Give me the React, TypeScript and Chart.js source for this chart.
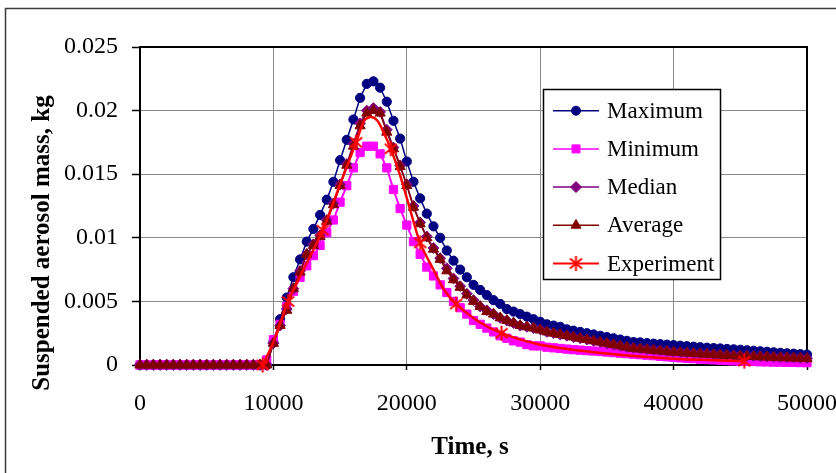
import React, { useEffect, useRef } from "react";
import { Chart, registerables } from "chart.js";

Chart.register(...registerables);

const FONT_FAMILY = '"Liberation Serif", "Times New Roman", Times, serif';

// Simulation output times, s
const timeSeconds = [
  0, 500, 1000, 1500, 2000, 2500, 3000, 3500, 4000, 4500,
  5000, 5500, 6000, 6500, 7000, 7500, 8000, 8500, 9000, 9500,
  10000, 10500, 11000, 11500, 12000, 12500, 13000, 13500, 14000, 14500,
  15000, 15500, 16000, 16500, 17000, 17500, 18000, 18500, 19000, 19500,
  20000, 20500, 21000, 21500, 22000, 22500, 23000, 23500, 24000, 24500,
  25000, 25500, 26000, 26500, 27000, 27500, 28000, 28500, 29000, 29500,
  30000, 30500, 31000, 31500, 32000, 32500, 33000, 33500, 34000, 34500,
  35000, 35500, 36000, 36500, 37000, 37500, 38000, 38500, 39000, 39500,
  40000, 40500, 41000, 41500, 42000, 42500, 43000, 43500, 44000, 44500,
  45000, 45500, 46000, 46500, 47000, 47500, 48000, 48500, 49000, 49500,
  50000,
];

const maximumMass = [
  0, 0, 0, 0, 0, 0, 0, 0, 0, 0,
  0, 0, 0, 0, 0, 0, 0, 0, 0, 0,
  0.0018, 0.0036, 0.0053, 0.0069, 0.0083, 0.0097, 0.0107, 0.0118, 0.013, 0.0144,
  0.0161, 0.0177, 0.0193, 0.021, 0.0221, 0.0223, 0.0218, 0.0207, 0.0192, 0.0178,
  0.016, 0.0144, 0.0131, 0.0119, 0.0109, 0.01, 0.009, 0.0082, 0.0075, 0.0069,
  0.0063, 0.0059, 0.0055, 0.0051, 0.0048, 0.0044, 0.0042, 0.004, 0.0038, 0.0036,
  0.0034, 0.0032, 0.0031, 0.003, 0.0028, 0.0027, 0.0026, 0.0025, 0.0024, 0.0023,
  0.0022, 0.0021, 0.002, 0.0019, 0.0018, 0.00178, 0.00172, 0.00168, 0.00164, 0.0016,
  0.00156, 0.00152, 0.00148, 0.00144, 0.0014, 0.00136, 0.00133, 0.0013, 0.00126, 0.00123,
  0.0012, 0.00116, 0.00112, 0.00108, 0.00104, 0.001, 0.00096, 0.00092, 0.00089, 0.00085,
  0.00082,
];

const minimumMass = [
  0, 0, 0, 0, 0, 0, 0, 0, 0, 0,
  0, 0, 0, 0, 0, 0, 0, 0, 0, 0.0004,
  0.002, 0.0032, 0.0046, 0.0058, 0.0069, 0.0078, 0.0086, 0.0094, 0.0104, 0.0114,
  0.0128, 0.0141, 0.0155, 0.0167, 0.0172, 0.0172, 0.0166, 0.0155, 0.0138, 0.0123,
  0.011, 0.0097, 0.0087, 0.0077, 0.007, 0.0063, 0.0057, 0.005, 0.0045, 0.004,
  0.0035, 0.0032, 0.0029, 0.0026, 0.0023, 0.0021, 0.0019, 0.0018, 0.0016, 0.0015,
  0.0015, 0.0014, 0.00135, 0.0013, 0.00125, 0.0012, 0.00117, 0.00113, 0.0011, 0.00106,
  0.00102, 0.00097, 0.00093, 0.00089, 0.00085, 0.00081, 0.00077, 0.00073, 0.00068, 0.00064,
  0.0006, 0.00056, 0.00053, 0.00049, 0.00046, 0.00043, 0.0004, 0.00037, 0.00034, 0.00032,
  0.0003, 0.00028, 0.00027, 0.00025, 0.00024, 0.00023, 0.00022, 0.00021, 0.0002, 0.00019,
  0.00018,
];

const medianMass = [
  0, 0, 0, 0, 0, 0, 0, 0, 0, 0,
  0, 0, 0, 0, 0, 0, 0, 0, 0, 0,
  0.0017, 0.0031, 0.0044, 0.006, 0.0074, 0.0087, 0.0095, 0.0102, 0.0114, 0.0127,
  0.0142, 0.0158, 0.0174, 0.019, 0.02, 0.0202, 0.0199, 0.0185, 0.0171, 0.0157,
  0.0142, 0.0125, 0.0112, 0.0101, 0.0092, 0.0084, 0.0076, 0.0068, 0.0062, 0.0056,
  0.0051, 0.0046, 0.0043, 0.004, 0.0037, 0.0035, 0.0033, 0.0031, 0.003, 0.0029,
  0.0028, 0.0026, 0.0025, 0.0024, 0.0023, 0.0022, 0.0021, 0.002, 0.0019, 0.0018,
  0.0017, 0.0016, 0.0015, 0.0014, 0.00135, 0.0013, 0.00125, 0.0012, 0.00115, 0.0011,
  0.00105, 0.001, 0.00097, 0.00094, 0.00091, 0.00088, 0.00085, 0.00082, 0.00079, 0.00076,
  0.00074, 0.00072, 0.0007, 0.00068, 0.00066, 0.00064, 0.00062, 0.0006, 0.00058, 0.00056,
  0.00054,
];

const averageMass = [
  0, 0, 0, 0, 0, 0, 0, 0, 0, 0,
  0, 0, 0, 0, 0, 0, 0, 0, 0, 0,
  0.0017, 0.0031, 0.0043, 0.006, 0.0073, 0.0087, 0.0094, 0.0101, 0.0113, 0.0126,
  0.0141, 0.0157, 0.0172, 0.0188, 0.0198, 0.02, 0.0198, 0.0183, 0.017, 0.0156,
  0.0141, 0.0124, 0.0111, 0.01, 0.0091, 0.0083, 0.0074, 0.0067, 0.0061, 0.0055,
  0.005, 0.0046, 0.0042, 0.004, 0.0037, 0.0035, 0.0033, 0.0031, 0.003, 0.0029,
  0.00275, 0.0026, 0.0025, 0.0024, 0.0023, 0.0022, 0.0021, 0.002, 0.0019, 0.0018,
  0.0017, 0.0016, 0.0015, 0.0014, 0.0013, 0.00125, 0.0012, 0.00115, 0.0011, 0.00105,
  0.001, 0.00097, 0.00093, 0.0009, 0.00087, 0.00084, 0.00081, 0.00078, 0.00075, 0.00072,
  0.0007, 0.00068, 0.00066, 0.00064, 0.00062, 0.0006, 0.00058, 0.00056, 0.00054, 0.00052,
  0.0005,
];

// Experiment: measured curve and the marked measurement points
const experimentCurveTime = [
  9200, 10000, 11100, 12400, 13700, 15000, 16200, 16800, 17300, 17800, 18300, 18800,
  19500, 20200, 21000, 22000, 22800, 23700, 25400, 27100, 30000, 35000, 40000, 45300,
];
const experimentCurveMass = [
  0, 0.0018, 0.005, 0.0078, 0.0106, 0.0142, 0.0175, 0.0192, 0.0195, 0.0192, 0.0182, 0.017,
  0.0149, 0.0124, 0.0096, 0.0075, 0.0059, 0.0048, 0.0034, 0.0025, 0.0016, 0.0009, 0.0005, 0.0003,
];
const experimentMarkTime = [9200, 11100, 13700, 16200, 18800, 21000, 23700, 27100, 45300];
const experimentMarkMass = [0, 0.005, 0.0106, 0.0175, 0.017, 0.0096, 0.0048, 0.0025, 0.0003];

const xTickValues = [0, 10000, 20000, 30000, 40000, 50000];
const yTickValues = [0, 0.005, 0.01, 0.015, 0.02, 0.025];

const seriesNames = ["Maximum", "Minimum", "Median", "Average", "Experiment"];
const xTitle = "Time, s";
const yTitle = "Suspended aerosol mass, kg";

const COLORS = ["#000080", "#FF00FF", "#800080", "#800000", "#FF0000"];
const MARKERS = ["circle", "rect", "rectRot", "triangle", "asterisk"];

function makeAsterisk(color: string): HTMLCanvasElement {
  const c = document.createElement("canvas");
  c.width = 17;
  c.height = 17;
  const g = c.getContext("2d")!;
  g.strokeStyle = color;
  g.lineWidth = 2;
  g.beginPath();
  g.moveTo(8.5, 1);
  g.lineTo(8.5, 16);
  g.moveTo(2.5, 3.5);
  g.lineTo(14.5, 13.5);
  g.moveTo(14.5, 3.5);
  g.lineTo(2.5, 13.5);
  g.stroke();
  return c;
}

function drawLegendMarker(
  ctx: CanvasRenderingContext2D,
  kind: string,
  x: number,
  y: number,
  color: string,
  asterisk: HTMLCanvasElement
) {
  if (kind === "asterisk") {
    ctx.drawImage(asterisk, x - 8.5, y - 8.5);
    return;
  }
  ctx.fillStyle = color;
  ctx.strokeStyle = color;
  ctx.lineWidth = 1;
  ctx.beginPath();
  if (kind === "circle") {
    ctx.arc(x, y, 4.5, 0, Math.PI * 2);
  } else if (kind === "rect") {
    ctx.rect(x - 4, y - 4, 8, 8);
  } else if (kind === "rectRot") {
    ctx.moveTo(x - 5.5, y);
    ctx.lineTo(x, y - 5.5);
    ctx.lineTo(x + 5.5, y);
    ctx.lineTo(x, y + 5.5);
    ctx.closePath();
  } else if (kind === "triangle") {
    const r = 5.8;
    ctx.moveTo(x, y - r);
    ctx.lineTo(x + r * Math.sin((2 * Math.PI) / 3), y - r * Math.cos((2 * Math.PI) / 3));
    ctx.lineTo(x + r * Math.sin((4 * Math.PI) / 3), y - r * Math.cos((4 * Math.PI) / 3));
    ctx.closePath();
  }
  ctx.fill();
  ctx.stroke();
}

export default function App() {
  const canvasRef = useRef<HTMLCanvasElement>(null);

  useEffect(() => {
    const canvas = canvasRef.current;
    if (!canvas) return;
    const asterisk = makeAsterisk("#FF0000");
    const pts = (xs: number[], ys: number[]) => xs.map((x, i) => ({ x, y: ys[i] }));

    const framePlugin = {
      id: "excelFrames",
      beforeDraw(chart: any) {
        const ctx = chart.ctx;
        ctx.save();
        ctx.fillStyle = "#ffffff";
        ctx.fillRect(0, 0, chart.width, chart.height);
        ctx.strokeStyle = "#3a3a3a";
        ctx.lineWidth = 1.5;
        ctx.strokeRect(5.5, 8.5, chart.width + 20, chart.height + 20);
        ctx.restore();
      },
      beforeDatasetsDraw(chart: any) {
        const { ctx, chartArea } = chart;
        ctx.save();
        ctx.strokeStyle = "#000000";
        ctx.lineWidth = 2;
        ctx.beginPath();
        ctx.moveTo(chartArea.left, chartArea.top);
        ctx.lineTo(chartArea.right, chartArea.top);
        ctx.lineTo(chartArea.right, chartArea.bottom);
        ctx.stroke();
        ctx.restore();
      },
      afterDraw(chart: any) {
        const ctx = chart.ctx as CanvasRenderingContext2D;
        ctx.save();
        // legend
        const bx = 543.5, by = 89.5, bw = 177, bh = 190;
        ctx.fillStyle = "#ffffff";
        ctx.fillRect(bx, by, bw, bh);
        ctx.strokeStyle = "#000000";
        ctx.lineWidth = 1.5;
        ctx.strokeRect(bx, by, bw, bh);
        seriesNames.forEach((name, i) => {
          const y = 110.7 + i * 38.2;
          ctx.strokeStyle = COLORS[i];
          ctx.lineWidth = i === 4 ? 2 : 1.5;
          ctx.beginPath();
          ctx.moveTo(553, y);
          ctx.lineTo(599, y);
          ctx.stroke();
          drawLegendMarker(ctx, MARKERS[i], 576, y, COLORS[i], asterisk);
          ctx.fillStyle = "#000000";
          ctx.font = `23px ${FONT_FAMILY}`;
          ctx.textAlign = "left";
          ctx.textBaseline = "middle";
          ctx.fillText(name, 607, y + 1);
        });
        // axis titles
        ctx.fillStyle = "#000000";
        ctx.font = `bold 25px ${FONT_FAMILY}`;
        ctx.textAlign = "center";
        ctx.textBaseline = "middle";
        ctx.fillText(xTitle, 470, 448);
        ctx.translate(43, 243);
        ctx.rotate(-Math.PI / 2);
        ctx.fillText(yTitle, 0, 0);
        ctx.restore();
      },
    };

    const lineDs = (label: string, data: number[], i: number, style: string, radius: number, order: number) => ({
      label,
      data: pts(timeSeconds, data),
      showLine: true,
      borderColor: COLORS[i],
      backgroundColor: COLORS[i],
      borderWidth: i === 1 ? 2 : 1.5,
      pointStyle: style,
      pointRadius: radius,
      pointBorderWidth: 1,
      pointBorderColor: COLORS[i],
      pointBackgroundColor: COLORS[i],
      tension: 0,
      clip: false,
      order,
    });

    const chart = new Chart(canvas, {
      type: "scatter",
      data: {
        datasets: [
          {
            label: seriesNames[4] + " points",
            data: pts(experimentMarkTime, experimentMarkMass),
            showLine: false,
            pointStyle: asterisk,
            pointRadius: 7,
            borderColor: COLORS[4],
            backgroundColor: COLORS[4],
            clip: false,
            order: 0,
          } as any,
          {
            label: seriesNames[4],
            data: pts(experimentCurveTime, experimentCurveMass),
            showLine: true,
            borderColor: COLORS[4],
            backgroundColor: COLORS[4],
            borderWidth: 2.5,
            pointRadius: 0,
            tension: 0.3,
            clip: false,
            order: 1,
          } as any,
          lineDs(seriesNames[3], averageMass, 3, "triangle", 5.9, 2),
          lineDs(seriesNames[2], medianMass, 2, "rectRot", 5.4, 3),
          lineDs(seriesNames[1], minimumMass, 1, "rect", 5.8, 4),
          lineDs(seriesNames[0], maximumMass, 0, "circle", 4.6, 5),
        ],
      },
      options: {
        animation: false,
        responsive: false,
        events: [],
        layout: { padding: { left: 0, right: 29, top: 47, bottom: 0 } },
        plugins: {
          legend: { display: false },
          tooltip: { enabled: false },
          title: { display: false },
        },
        scales: {
          x: {
            type: "linear",
            min: 0,
            max: 50000,
            afterBuildTicks: (s: any) => {
              s.ticks = xTickValues.map((v) => ({ value: v }));
            },
            afterFit: (s: any) => {
              s.height = 108;
              s.paddingLeft = 0;
              s.paddingRight = 0;
            },
            ticks: {
              callback: (v: any) => String(v),
              font: { family: FONT_FAMILY, size: 24 },
              color: "#000000",
              padding: 19,
              maxRotation: 0,
              autoSkip: false,
            },
            grid: { color: "#8a8a8a", lineWidth: 1, tickColor: "#000000", tickLength: 5, tickWidth: 1.5 },
            border: { color: "#000000", width: 2 },
          },
          y: {
            type: "linear",
            min: 0,
            max: 0.025,
            afterBuildTicks: (s: any) => {
              s.ticks = yTickValues.map((v) => ({ value: v }));
            },
            afterFit: (s: any) => {
              s.width = 140;
              s.paddingTop = 0;
              s.paddingBottom = 0;
            },
            ticks: {
              callback: (v: any) => String(v),
              font: { family: FONT_FAMILY, size: 24 },
              color: "#000000",
              padding: 14,
              autoSkip: false,
            },
            grid: { color: "#8a8a8a", lineWidth: 1, tickColor: "#000000", tickLength: 8, tickWidth: 1.5 },
            border: { color: "#000000", width: 2 },
          },
        },
      } as any,
      plugins: [framePlugin],
    });

    return () => chart.destroy();
  }, []);

  return (
    <div style={{ position: "fixed", left: 0, top: 0, width: 836, height: 473, background: "#ffffff" }}>
      <canvas ref={canvasRef} width={836} height={473} style={{ display: "block", width: 836, height: 473 }} />
    </div>
  );
}
